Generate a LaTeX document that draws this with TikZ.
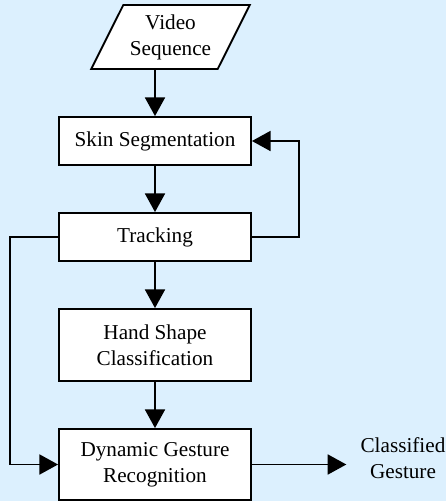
\documentclass[tikz,border=0pt]{standalone}
\usepackage{fontspec}
\setmainfont{Liberation Serif}
\usetikzlibrary{arrows.meta,shapes.geometric}

\definecolor{bgblue}{RGB}{220,240,254}

\begin{document}
\begin{tikzpicture}[x=0.75pt,y=0.75pt,yscale=-1,xscale=1,
  font=\fontsize{15.9}{19.5}\selectfont,
  box/.style={draw,line width=1.4pt,fill=white,minimum width=144pt,align=center,inner sep=0pt},
  arr/.style={line width=1.4pt,-{Triangle[length=14pt,width=15pt]}}]
%Shape: Background
\fill [bgblue] (0,0) rectangle (446,501);
\useasboundingbox (0,0) rectangle (446,501);

%Shape: Parallelogram
\draw (170.5,37) node [draw,line width=1.4pt,fill=white,trapezium,trapezium left angle=58.6,trapezium right angle=121.4,trapezium stretches=true,minimum width=119pt,minimum height=48pt,inner sep=0pt,align=center] (vid) {Video\\Sequence};
%Shape: Rectangle
\draw (155,141) node [box,minimum height=36pt] (skin) {Skin Segmentation};
%Shape: Rectangle
\draw (155,237) node [box,minimum height=36pt] (trk) {Tracking};
%Shape: Rectangle
\draw (155,345) node [box,minimum height=54pt] (hand) {Hand Shape\\Classification};
%Shape: Rectangle
\draw (155,464.5) node [box,minimum height=53.25pt] (dyn) {Dynamic Gesture\\Recognition};
% Text Node
\draw (403,458) node [align=center,inner sep=0pt] (out) {Classified\\Gesture};

%Straight Lines
\draw [arr] (vid.south -| skin.north) -- (skin.north) ;
\draw [arr] (skin) -- (trk) ;
\draw [arr] (trk) -- (hand) ;
\draw [arr] (hand) -- (dyn) ;
%Feedback Lines
\draw [arr] (trk.east) -- ++(47,0) |- (skin.east) ;
\draw [arr] (trk.west) -- ++(-48,0) |- (dyn.west) ;
%Output Line
\draw [arr] (dyn.east) -- ([xshift=-10.5pt]out.west |- dyn.east) ;

\end{tikzpicture}
\end{document}
